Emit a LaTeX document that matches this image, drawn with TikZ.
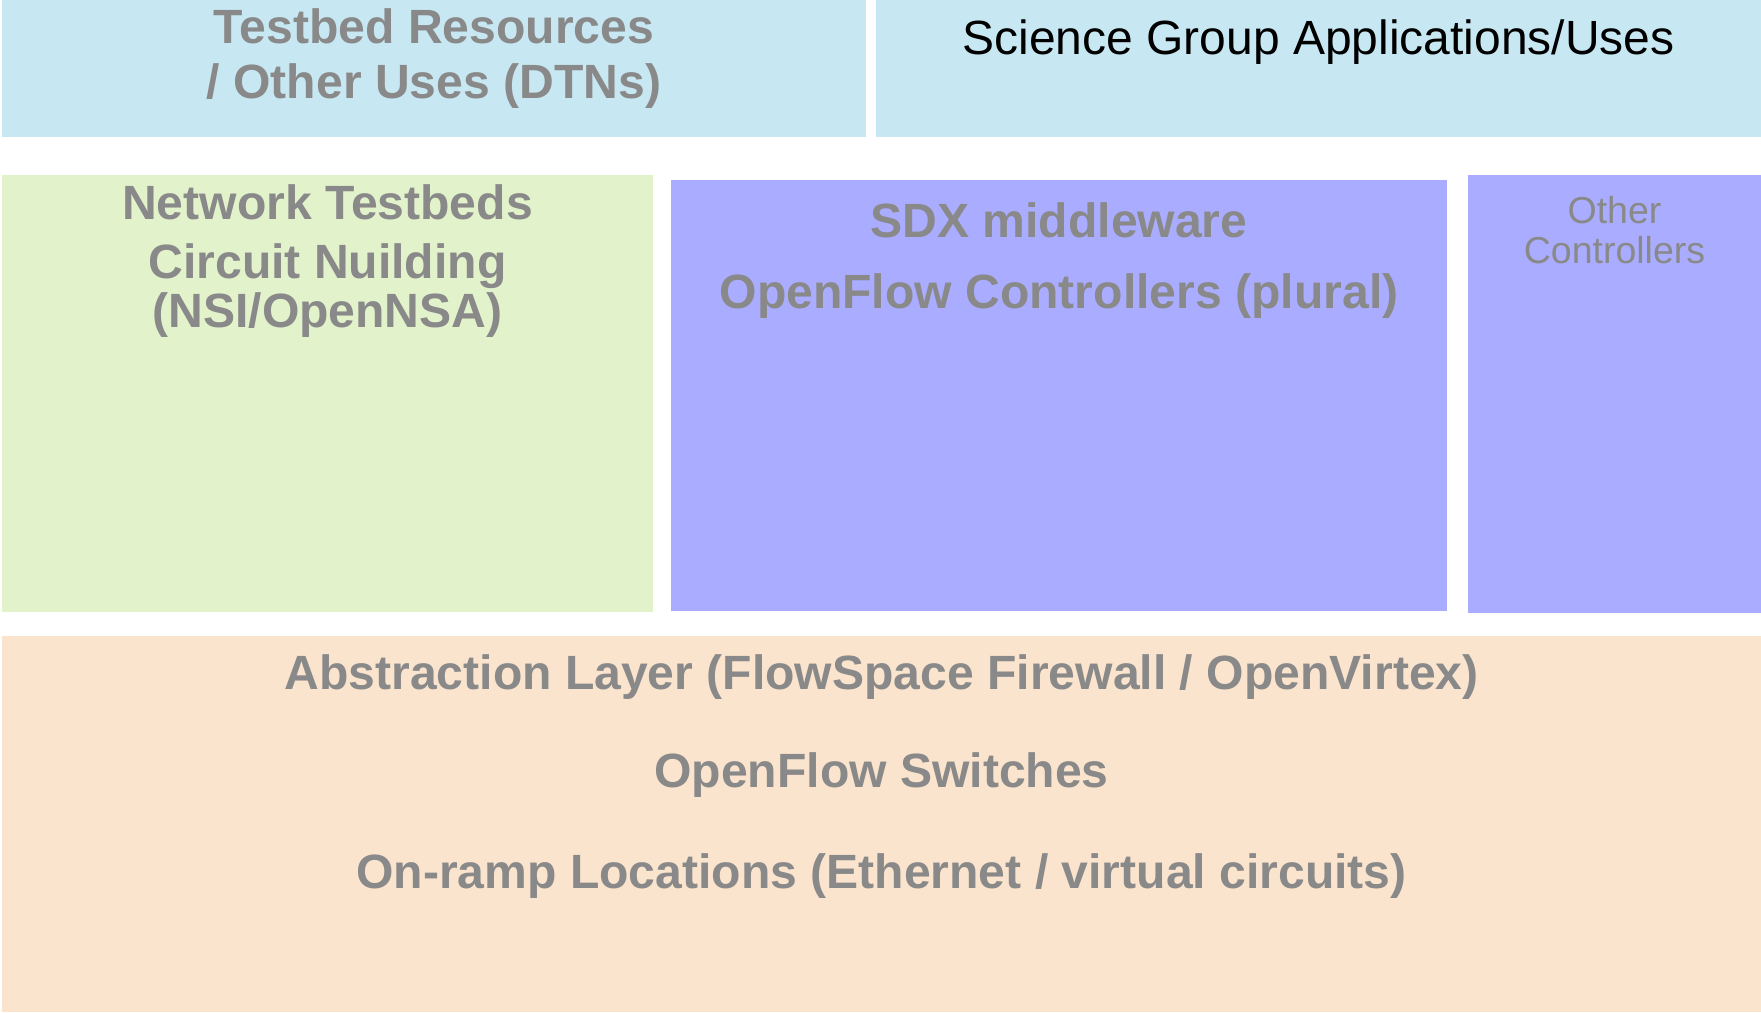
\documentclass[tikz,border=0pt]{standalone}
\usepackage{fontspec}
\setmainfont{Liberation Sans}
\usetikzlibrary{calc}
\definecolor{toplayer}{RGB}{199,232,243}
\definecolor{testbedlayer}{RGB}{226,242,203}
\definecolor{ctrllayer}{RGB}{170,173,255}
\definecolor{baselayer}{RGB}{251,228,205}
\definecolor{labelgrey}{RGB}{137,137,137}
\newcommand{\figurescale}{1pt}
\newcommand{\makelayer}[4]{
	\fill[#2] (#3) rectangle (#4);
	\coordinate (#1) at ($(#3)!0.5!(#4)$);
}
\tikzset{
	greybold/.style={text=labelgrey, font=\fontsize{48.1}{55}\selectfont\bfseries, anchor=base, inner sep=0pt},
	greyplain/.style={text=labelgrey, font=\fontsize{37.5}{40}\selectfont, anchor=base, inner sep=0pt},
	blackplain/.style={text=black, font=\fontsize{48}{55}\selectfont, anchor=base, inner sep=0pt}
}

\begin{document}
\begin{tikzpicture}[x=\figurescale,y=-\figurescale]
	\useasboundingbox (0,0) rectangle (1761,1012);

	\makelayer{res}{toplayer}{2,0}{866,137}
	\makelayer{sci}{toplayer}{876,0}{1761,137}
	\makelayer{net}{testbedlayer}{2,175}{653,612}
	\makelayer{sdx}{ctrllayer}{671,180}{1447,611}
	\makelayer{ctl}{ctrllayer}{1468,175}{1761,613}
	\makelayer{abs}{baselayer}{2,636}{1761,1012}

	\node[greybold] (resA) at (res |- 0,43) {Testbed Resources};
	\node[greybold] (resB) at (res |- 0,98) {/ Other Uses (DTNs)};
	\node[blackplain] (sciA) at (sci |- 0,54) {Science Group Applications/Uses};

	\node[greybold] (netA) at (net |- 0,219) {Network Testbeds};
	\node[greybold] (netB) at (net |- 0,278) {Circuit Nuilding};
	\node[greybold] (netC) at (net |- 0,327) {(NSI/OpenNSA)};

	\node[greybold] (sdxA) at (sdx |- 0,237) {SDX middleware};
	\node[greybold] (sdxB) at (sdx |- 0,308) {OpenFlow Controllers (plural)};

	\node[greyplain] (ctlA) at (ctl |- 0,223) {Other};
	\node[greyplain] (ctlB) at (ctl |- 0,263) {Controllers};

	\node[greybold] (absA) at (abs |- 0,689) {Abstraction Layer (FlowSpace Firewall / OpenVirtex)};
	\node[greybold] (absB) at (abs |- 0,787) {OpenFlow Switches};
	\node[greybold] (absC) at (abs |- 0,888) {On-ramp Locations (Ethernet / virtual circuits)};
\end{tikzpicture}
\end{document}
